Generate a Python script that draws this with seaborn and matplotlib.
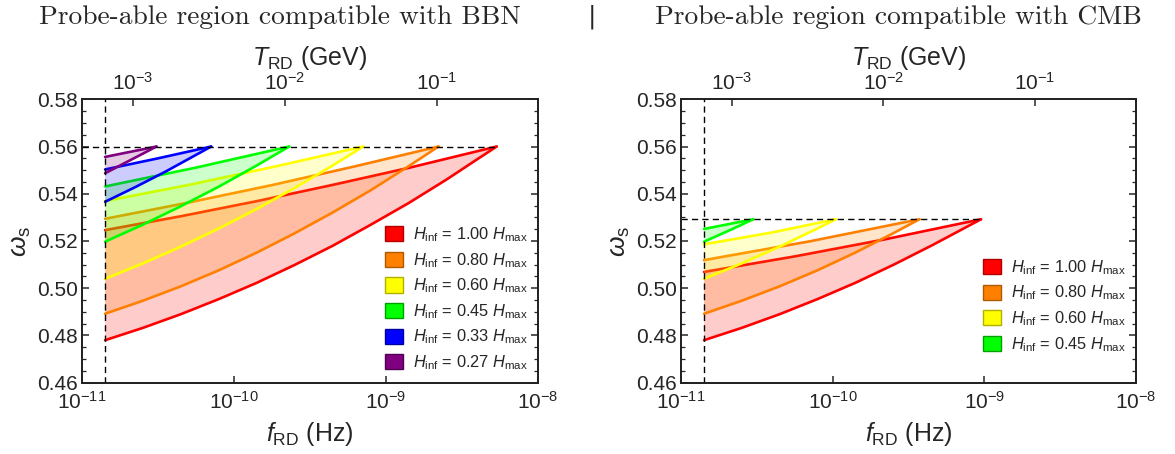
import matplotlib
matplotlib.use("Agg")
import numpy as np
import pandas as pd
import seaborn as sns
import matplotlib.pyplot as plt
from matplotlib.patches import Patch
from matplotlib.ticker import MultipleLocator, FixedLocator, NullLocator

# ---------------- data ----------------
FMIN_LOG = -10.848          # log10 f_RD of the vertical dashed bound
BBN_WMAX = 0.560            # omega_s cap, BBN panel
CMB_WMAX = 0.5292           # omega_s cap, CMB panel
T_PER_F_LOG = 7.666         # log10(T_RD/GeV) - log10(f_RD/Hz) for the top axis

H_LABELS = ["1.00", "0.80", "0.60", "0.45", "0.33", "0.27"]
COLORS = ["#ff0000", "#ff8000", "#ffff00", "#00ff00", "#0000ff", "#800080"]
EDGES = ["#b00000", "#b05a00", "#b0b000", "#00a000", "#0000a0", "#500050"]

# BBN panel curves: log10 f and omega_s
bbn_red_lower_f = [-10.848, -10.6, -10.35, -10.1, -9.85, -9.6, -9.35, -9.1, -8.85, -8.6, -8.4, -8.272]
bbn_red_lower_w = [0.4780, 0.4832, 0.4890, 0.4954, 0.5023, 0.5099, 0.5180, 0.5269, 0.5361, 0.5461, 0.5546, 0.5600]
bbn_red_upper_f = [-10.848, -10.348, -9.848, -9.348, -8.848, -8.272]
bbn_red_upper_w = [0.5246, 0.5305, 0.5369, 0.5438, 0.5510, 0.5600]

bbn_orange_lower_f = [-10.848, -10.6, -10.35, -10.1, -9.85, -9.6, -9.35, -9.1, -8.85, -8.655]
bbn_orange_lower_w = [0.4892, 0.4947, 0.5008, 0.5076, 0.5151, 0.5233, 0.5321, 0.5415, 0.5517, 0.5600]
bbn_orange_upper_f = [-10.848, -10.298, -9.748, -9.198, -8.655]
bbn_orange_upper_w = [0.5294, 0.5363, 0.5437, 0.5517, 0.5600]

bbn_yellow_lower_f = [-10.848, -10.6, -10.35, -10.1, -9.85, -9.6, -9.35, -9.15]
bbn_yellow_lower_w = [0.5040, 0.5105, 0.5176, 0.5253, 0.5336, 0.5425, 0.5520, 0.5600]
bbn_yellow_upper_f = [-10.848, -10.278, -9.718, -9.15]
bbn_yellow_upper_w = [0.5369, 0.5440, 0.5517, 0.5600]

bbn_green_lower_f = [-10.848, -10.6, -10.35, -10.1, -9.85, -9.637]
bbn_green_lower_w = [0.5197, 0.5269, 0.5347, 0.5430, 0.5520, 0.5600]
bbn_green_upper_f = [-10.848, -10.248, -9.637]
bbn_green_upper_w = [0.5431, 0.5511, 0.5600]

bbn_blue_lower_f = [-10.848, -10.65, -10.45, -10.15]
bbn_blue_lower_w = [0.5366, 0.5428, 0.5494, 0.5600]
bbn_blue_upper_f = [-10.848, -10.5, -10.15]
bbn_blue_upper_w = [0.5503, 0.5550, 0.5600]

bbn_purple_lower_f = [-10.848, -10.68, -10.51]
bbn_purple_lower_w = [0.5487, 0.5543, 0.5600]
bbn_purple_upper_f = [-10.848, -10.51]
bbn_purple_upper_w = [0.5556, 0.5600]

# CMB panel curves
cmb_red_lower_f = [-10.848, -10.6, -10.35, -10.1, -9.85, -9.6, -9.35, -9.022]
cmb_red_lower_w = [0.4780, 0.4832, 0.4890, 0.4954, 0.5023, 0.5099, 0.5180, 0.5292]
cmb_red_upper_f = [-10.848, -10.248, -9.648, -9.022]
cmb_red_upper_w = [0.5069, 0.5135, 0.5208, 0.5292]

cmb_orange_lower_f = [-10.848, -10.6, -10.35, -10.1, -9.85, -9.6, -9.428]
cmb_orange_lower_w = [0.4892, 0.4947, 0.5008, 0.5076, 0.5151, 0.5233, 0.5292]
cmb_orange_upper_f = [-10.848, -10.148, -9.428]
cmb_orange_upper_w = [0.5119, 0.5199, 0.5292]

cmb_yellow_lower_f = [-10.848, -10.6, -10.35, -10.1, -9.98]
cmb_yellow_lower_w = [0.5040, 0.5105, 0.5176, 0.5253, 0.5292]
cmb_yellow_upper_f = [-10.848, -10.4, -9.98]
cmb_yellow_upper_w = [0.5186, 0.5236, 0.5292]

cmb_green_lower_f = [-10.848, -10.65, -10.524]
cmb_green_lower_w = [0.5197, 0.5254, 0.5292]
cmb_green_upper_f = [-10.848, -10.524]
cmb_green_upper_w = [0.5251, 0.5292]

BBN_REGIONS = [
    (bbn_red_lower_f, bbn_red_lower_w, bbn_red_upper_f, bbn_red_upper_w),
    (bbn_orange_lower_f, bbn_orange_lower_w, bbn_orange_upper_f, bbn_orange_upper_w),
    (bbn_yellow_lower_f, bbn_yellow_lower_w, bbn_yellow_upper_f, bbn_yellow_upper_w),
    (bbn_green_lower_f, bbn_green_lower_w, bbn_green_upper_f, bbn_green_upper_w),
    (bbn_blue_lower_f, bbn_blue_lower_w, bbn_blue_upper_f, bbn_blue_upper_w),
    (bbn_purple_lower_f, bbn_purple_lower_w, bbn_purple_upper_f, bbn_purple_upper_w),
]
CMB_REGIONS = [
    (cmb_red_lower_f, cmb_red_lower_w, cmb_red_upper_f, cmb_red_upper_w),
    (cmb_orange_lower_f, cmb_orange_lower_w, cmb_orange_upper_f, cmb_orange_upper_w),
    (cmb_yellow_lower_f, cmb_yellow_lower_w, cmb_yellow_upper_f, cmb_yellow_upper_w),
    (cmb_green_lower_f, cmb_green_lower_w, cmb_green_upper_f, cmb_green_upper_w),
]

XLIM = (1e-11, 1e-8)
YLIM = (0.46, 0.58)
YTICKS = [0.46, 0.48, 0.50, 0.52, 0.54, 0.56, 0.58]
TTICKS = [1e-3, 1e-2, 1e-1]

# ---------------- style ----------------
sns.set_style("ticks")
plt.rcParams.update({
    "font.family": ["Liberation Sans", "DejaVu Sans"],
    "mathtext.fontset": "custom",
    "mathtext.rm": "Liberation Sans",
    "mathtext.it": "Liberation Sans:italic",
    "mathtext.bf": "Liberation Sans:bold",
    "axes.edgecolor": "#222222",
    "axes.linewidth": 1.3,
})

fig = plt.figure(figsize=(11.75, 4.54), dpi=100)
W, H = 1175, 454
ax_l = fig.add_axes([82 / W, (H - 382.7) / H, 456 / W, 283.4 / H])
ax_r = fig.add_axes([681 / W, (H - 382.7) / H, 455 / W, 283.4 / H])


def draw_panel(ax, regions, wmax, legend_y):
    red_tip = 10 ** regions[0][0][-1]
    handles = []
    for i, (lo_f, lo_w, up_f, up_w) in enumerate(regions):
        c = COLORS[i]
        z = 2 + i
        px = 10 ** np.array(up_f + lo_f[::-1])
        py = up_w + lo_w[::-1]
        ax.fill(px, py, color=c, alpha=0.2, lw=0, zorder=z)
        for ff, ww in ((lo_f, lo_w), (up_f, up_w)):
            df = pd.DataFrame({"f": 10 ** np.array(ff), "w": ww})
            sns.lineplot(data=df, x="f", y="w", ax=ax, color=c, lw=1.9,
                         sort=False, estimator=None, zorder=z + 0.5)
        handles.append(Patch(facecolor=c, edgecolor=EDGES[i], lw=1.0,
                             label=r"$H_{\rm inf}$ = " + H_LABELS[i] + r" $H_{\rm max}$"))
    dash = (0, (4.5, 3))
    ax.axvline(10 ** FMIN_LOG, color="k", ls=dash, lw=1.0, zorder=20)
    ax.hlines(wmax, XLIM[0], red_tip, color="k", ls=dash, lw=1.0, zorder=20)

    ax.set_xscale("log")
    ax.set_xlim(*XLIM)
    ax.set_ylim(*YLIM)
    ax.xaxis.set_major_locator(FixedLocator([1e-11, 1e-10, 1e-9, 1e-8]))
    ax.xaxis.set_minor_locator(NullLocator())
    ax.yaxis.set_major_locator(FixedLocator(YTICKS))
    ax.yaxis.set_minor_locator(MultipleLocator(0.005))
    ax.yaxis.set_major_formatter(matplotlib.ticker.FormatStrFormatter("%.2f"))
    ax.tick_params(axis="y", which="major", direction="in", length=5, width=1.1,
                   left=True, right=True, labelsize=15, pad=3)
    ax.tick_params(axis="y", which="minor", direction="in", length=2.8, width=0.9,
                   left=True, right=True)
    ax.tick_params(axis="x", which="major", direction="in", length=5, width=1.1,
                   top=False, bottom=True, labelsize=15, pad=6)
    ax.set_xlabel(r"$f_{\rm RD}$ (Hz)", fontsize=18, labelpad=5)
    ax.set_ylabel(r"$\omega_{\rm s}$", fontsize=19, labelpad=3)
    for s in ax.spines.values():
        s.set_visible(True)

    ax2 = ax.twiny()
    ax2.set_xscale("log")
    k = 10 ** T_PER_F_LOG
    ax2.set_xlim(XLIM[0] * k, XLIM[1] * k)
    ax2.xaxis.set_major_locator(FixedLocator(TTICKS))
    ax2.xaxis.set_minor_locator(NullLocator())
    ax2.tick_params(axis="x", which="major", direction="in", length=5, width=1.1,
                    labelsize=15, pad=4)
    ax2.set_xlabel(r"$T_{\rm RD}$ (GeV)", fontsize=18, labelpad=5)

    leg = ax.legend(handles=handles, loc="lower right", frameon=False,
                    bbox_to_anchor=(1.0, legend_y), fontsize=11.8,
                    handlelength=1.05, handleheight=1.05, handletextpad=0.6,
                    labelspacing=0.42, borderaxespad=0.25)
    leg.set_zorder(30)


draw_panel(ax_l, BBN_REGIONS, BBN_WMAX, 0.0)
draw_panel(ax_r, CMB_REGIONS, CMB_WMAX, 0.065)

serif = ["cmr10", "DejaVu Serif"]
fig.text(280 / W, 1 - 17 / H, "Probe-able region compatible with BBN",
         ha="center", va="center", fontsize=19.8, family=serif)
fig.text(898 / W, 1 - 17 / H, "Probe-able region compatible with CMB",
         ha="center", va="center", fontsize=19.8, family=serif)
fig.text(592 / W, 1 - 17 / H, "|", ha="center", va="center", fontsize=18,
         family=["DejaVu Serif"])

fig.savefig("out.png", dpi=100)
